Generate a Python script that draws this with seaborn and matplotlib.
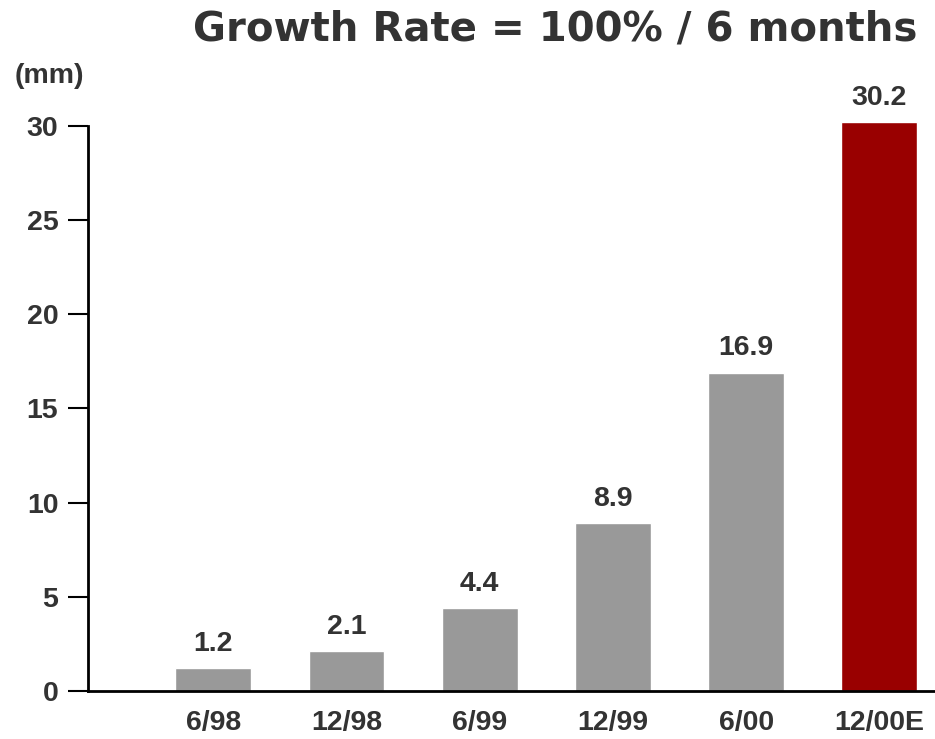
import matplotlib
matplotlib.use("Agg")
import matplotlib.pyplot as plt
import seaborn as sns
import pandas as pd

periods = ["6/98", "12/98", "6/99", "12/99", "6/00", "12/00E"]
thickness_mm = [1.2, 2.1, 4.4, 8.9, 16.9, 30.2]
value_labels = ["1.2", "2.1", "4.4", "8.9", "16.9", "30.2"]
y_ticks = [0, 5, 10, 15, 20, 25, 30]

GRAY = "#999999"
RED = "#990000"
TEXT = "#333333"
bar_colors = [GRAY, GRAY, GRAY, GRAY, GRAY, RED]

sns.set_theme(style="white")
plt.rcParams["font.family"] = ["Liberation Sans", "DejaVu Sans"]

df = pd.DataFrame({"period": periods, "mm": thickness_mm})

fig = plt.figure(figsize=(9.35, 7.39), dpi=100)
ax = fig.add_axes([88 / 935, 48 / 739, 1 - 88 / 935 - 0.001, (691 - 120) / 739])

sns.barplot(data=df, x="period", y="mm", hue="period", palette=bar_colors,
            width=0.57, legend=False, saturation=1, ax=ax)

# value labels above each bar
for cont, lab in zip(ax.containers, value_labels):
    ax.bar_label(cont, labels=[lab], padding=8, fontsize=20.5,
                 fontweight="bold", color=TEXT)

ax.set_ylim(0, 30.3)
ax.set_xlim(-0.94, 5.41)
ax.set_yticks(y_ticks)
ax.set_yticklabels([str(t) for t in y_ticks])
ax.set_xlabel("")
ax.set_ylabel("")

for side in ["top", "right"]:
    ax.spines[side].set_visible(False)
for side in ["left", "bottom"]:
    ax.spines[side].set_color("black")
    ax.spines[side].set_linewidth(2)
ax.spines["left"].set_bounds(0, 30)

ax.tick_params(axis="y", which="major", direction="out", length=14.4, width=1.5,
               color="black", pad=7, left=True, labelsize=20.5, labelcolor=TEXT)
ax.tick_params(axis="x", length=0, pad=14, labelsize=20.5, labelcolor=TEXT)
for lbl in ax.get_xticklabels() + ax.get_yticklabels():
    lbl.set_fontweight("bold")

fig.text(917 / 935, 1 - 41 / 739, "Growth Rate = 100% / 6 months",
         ha="right", va="baseline", fontsize=29, fontweight="bold",
         color=TEXT, family=["DejaVu Sans"])
fig.text(15 / 935, 1 - 76 / 739, "(mm)", ha="left", va="center",
         fontsize=20.5, fontweight="bold", color=TEXT)

fig.savefig("out.png", dpi=100, facecolor="white")
